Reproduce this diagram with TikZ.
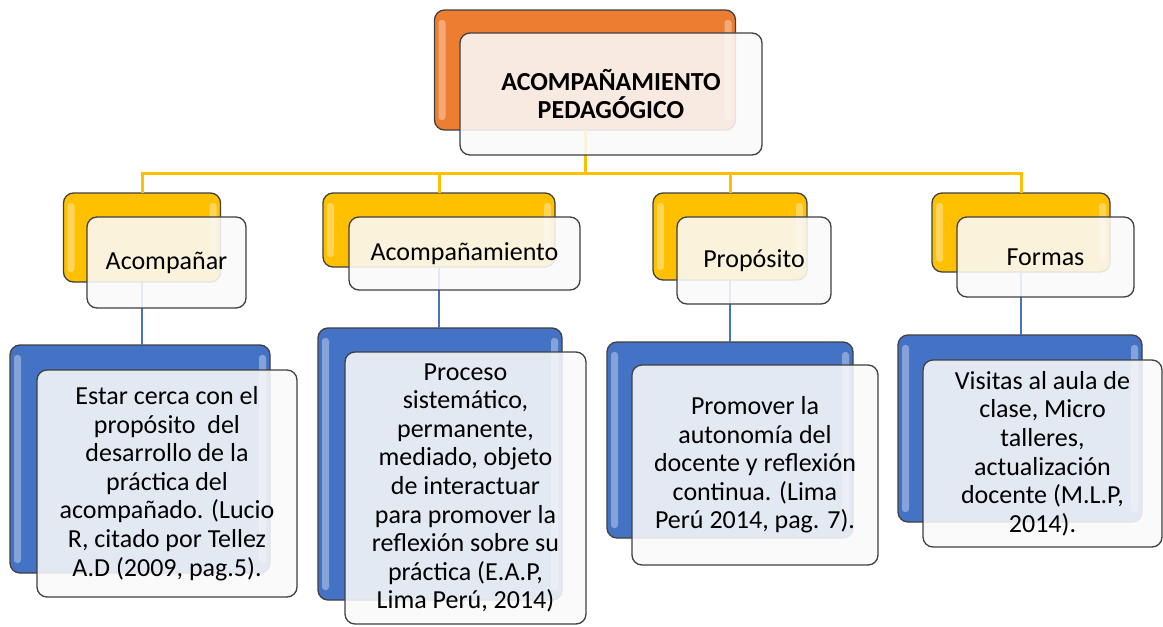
\documentclass[tikz,border=0pt]{standalone}
\usepackage{fontspec}
\setmainfont{Carlito}
\definecolor{cOrange}{HTML}{ED7D31}
\definecolor{cYellow}{HTML}{FFC000}
\definecolor{cBlue}{HTML}{4472C4}
\definecolor{cBorder}{HTML}{404040}
\definecolor{cFront}{HTML}{FAFAFA}
\tikzset{
  backbox/.style={draw=cBorder, line width=1.3pt, rounded corners=10pt, fill=#1,
    inner sep=0pt, outer sep=0pt,
    path picture={
      \fill[white,opacity=.35,rounded corners=3pt]
        ([xshift=4pt,yshift=-10pt]path picture bounding box.north west) rectangle
        ([xshift=11pt,yshift=10pt]path picture bounding box.south west);
      \fill[white,opacity=.35,rounded corners=3pt]
        ([xshift=-11pt,yshift=-10pt]path picture bounding box.north east) rectangle
        ([xshift=-4pt,yshift=10pt]path picture bounding box.south east);
    }},
  frontbox/.style={draw=cBorder, line width=1.3pt, rounded corners=10pt,
    fill=cFront, fill opacity=.88, text opacity=1, draw opacity=1,
    inner sep=0pt, outer sep=0pt, align=center,
    font=\fontsize{26}{28.6}\selectfont},
  titlebox/.style={frontbox, font=\bfseries\fontsize{26}{28}\selectfont},
  yline/.style={draw=cYellow, line width=3pt},
  bline/.style={draw=cBlue, line width=2pt},
}
\begin{document}
\begin{tikzpicture}[x=1pt,y=-1pt]
\useasboundingbox[fill=white] (0,0) rectangle (1163,627);

% back boxes
\node[backbox=cOrange, minimum width=301pt, minimum height=120pt] (ob) at (585,70) {};

\node[backbox=cYellow, minimum width=157pt, minimum height=89pt] (yb1) at (142,237.5) {};
\node[backbox=cYellow, minimum width=232pt, minimum height=74pt] (yb2) at (439,230) {};
\node[backbox=cYellow, minimum width=154pt, minimum height=87pt] (yb3) at (730,236.5) {};
\node[backbox=cYellow, minimum width=178pt, minimum height=79pt] (yb4) at (1021,232.5) {};

\node[backbox=cBlue, minimum width=260pt, minimum height=228pt] (bb1) at (140,459) {};
\node[backbox=cBlue, minimum width=244pt, minimum height=272pt] (bb2) at (440,464) {};
\node[backbox=cBlue, minimum width=246pt, minimum height=196pt] (bb3) at (730,440) {};
\node[backbox=cBlue, minimum width=244pt, minimum height=187pt] (bb4) at (1020,428.5) {};

% connectors
\coordinate (hb) at (585,173);
\foreach \n in {1,...,4}{
  \draw[yline] (ob.south) -- (hb) -| (yb\n.north);
  \draw[bline] (yb\n.south) -- (yb\n.south |- bb\n.north);
}

% front boxes
\node[titlebox, minimum width=302pt, minimum height=122pt] (of) at (611,94)
  {ACOMPAÑAMIENTO\\PEDAGÓGICO};

\node[frontbox, minimum width=159pt, minimum height=91pt] (yf1) at (166.5,262.5) {Acompañar};
\node[frontbox, minimum width=231pt, minimum height=73pt] (yf2) at (464.5,253.5) {Acompañamiento};
\node[frontbox, minimum width=154pt, minimum height=87pt] (yf3) at (754,260.5) {Propósito};
\node[frontbox, minimum width=177pt, minimum height=80pt] (yf4) at (1045.5,257) {Formas};

\node[frontbox, minimum width=260pt, minimum height=227pt] (bf1) at (167,483.5)
  {Estar cerca con el\\propósito\ \ del\\desarrollo de la\\práctica del\\acompañado. (Lucio\\R, citado por Tellez\\A.D (2009, pag.5).};
\node[frontbox, minimum width=241pt, minimum height=272pt] (bf2) at (465.5,488)
  {Proceso\\sistemático,\\permanente,\\mediado, objeto\\de interactuar\\para promover la\\reflexión sobre su\\práctica (E.A.P,\\Lima Perú, 2014)};
\node[frontbox, minimum width=246pt, minimum height=200pt] (bf3) at (755,465)
  {Promover la\\autonomía del\\docente y reflexión\\continua. (Lima\\Perú 2014, pag. 7).};
\node[frontbox, minimum width=239pt, minimum height=187pt] (bf4) at (1042.5,453.5)
  {Visitas al aula de\\clase, Micro\\talleres,\\actualización\\docente (M.L.P,\\2014).};
\end{tikzpicture}
\end{document}
